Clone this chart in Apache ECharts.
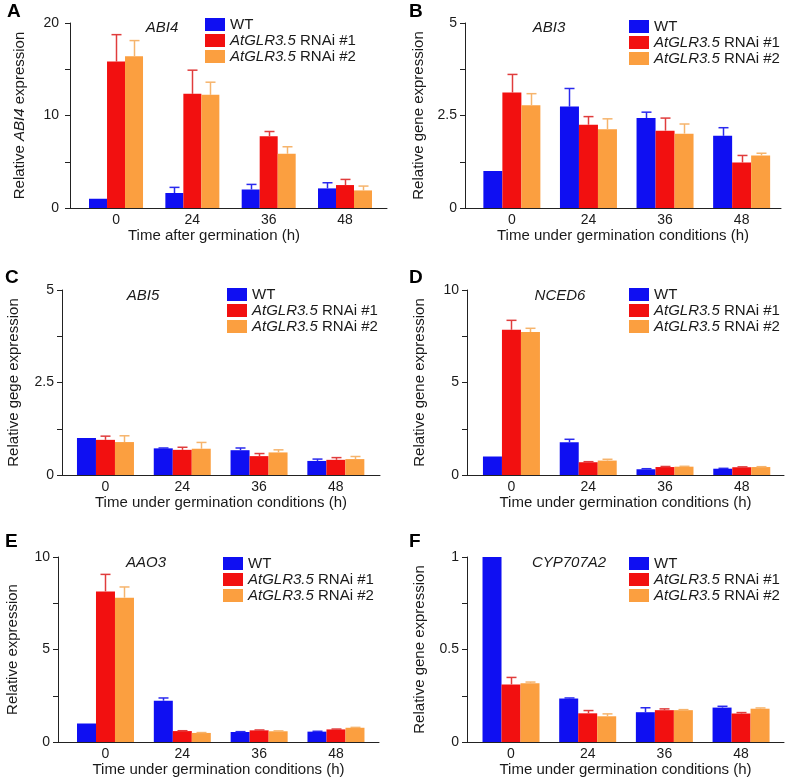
<!DOCTYPE html>
<html><head><meta charset="utf-8">
<script src="https://cdn.jsdelivr.net/npm/echarts@6/dist/echarts.min.js"></script>
<style>html,body{margin:0;padding:0;background:#fff}#c{width:788px;height:783px}</style>
</head><body><div id="c"></div>
<script>
// ---------- data ----------
const timeLabels = ['0', '24', '36', '48'];
const genotypes = ['WT', 'AtGLR3.5 RNAi #1', 'AtGLR3.5 RNAi #2'];

// A: ABI4
const abi4_WT = [1.0, 1.62, 2.0, 2.12];
const abi4_R1 = [15.83, 12.34, 7.77, 2.48];
const abi4_R2 = [16.4, 12.23, 5.86, 1.9];
const abi4_WT_sd = [0, 0.61, 0.55, 0.61];
const abi4_R1_sd = [2.91, 2.56, 0.5, 0.61];
const abi4_R2_sd = [1.7, 1.37, 0.76, 0.47];

// B: ABI3
const abi3_WT = [1.0, 2.74, 2.43, 1.95];
const abi3_R1 = [3.12, 2.25, 2.09, 1.23];
const abi3_R2 = [2.78, 2.13, 2.01, 1.42];
const abi3_WT_sd = [0, 0.49, 0.16, 0.22];
const abi3_R1_sd = [0.49, 0.22, 0.34, 0.19];
const abi3_R2_sd = [0.31, 0.28, 0.26, 0.06];

// C: ABI5
const abi5_WT = [1.0, 0.72, 0.67, 0.38];
const abi5_R1 = [0.95, 0.68, 0.51, 0.41];
const abi5_R2 = [0.89, 0.71, 0.61, 0.43];
const abi5_WT_sd = [0, 0.01, 0.06, 0.05];
const abi5_R1_sd = [0.10, 0.07, 0.07, 0.06];
const abi5_R2_sd = [0.17, 0.17, 0.07, 0.07];

// D: NCED6
const nced6_WT = [1.0, 1.77, 0.31, 0.34];
const nced6_R1 = [7.85, 0.69, 0.43, 0.42];
const nced6_R2 = [7.73, 0.78, 0.45, 0.43];
const nced6_WT_sd = [0, 0.16, 0.03, 0.02];
const nced6_R1_sd = [0.51, 0.03, 0.03, 0.02];
const nced6_R2_sd = [0.2, 0.07, 0.02, 0.02];

// E: AAO3
const aao3_WT = [1.0, 2.23, 0.54, 0.56];
const aao3_R1 = [8.14, 0.59, 0.63, 0.68];
const aao3_R2 = [7.8, 0.49, 0.58, 0.77];
const aao3_WT_sd = [0, 0.15, 0.02, 0.02];
const aao3_R1_sd = [0.92, 0.02, 0.02, 0.02];
const aao3_R2_sd = [0.58, 0.02, 0.02, 0.02];

// F: CYP707A2
const cyp_WT = [1.0, 0.235, 0.161, 0.186];
const cyp_R1 = [0.311, 0.155, 0.172, 0.154];
const cyp_R2 = [0.318, 0.139, 0.172, 0.18];
const cyp_WT_sd = [0, 0.003, 0.024, 0.007];
const cyp_R1_sd = [0.038, 0.015, 0.007, 0.005];
const cyp_R2_sd = [0.006, 0.013, 0.003, 0.004];

// ---------- layout / style ----------
const FONT = '"Liberation Sans", Arial, sans-serif';
const TXT = '#1a1a1a';
const barColors = ['#0f0ff2', '#f21010', '#fb9f40'];
const errColors = ['#2a2aee', '#e03c3c', '#f6b46c'];

const panels = [
  {letter: 'A', gene: 'ABI4', yName: 'Relative {i|ABI4} expression', xName: 'Time after germination (h)',
   means: [abi4_WT, abi4_R1, abi4_R2], sds: [abi4_WT_sd, abi4_R1_sd, abi4_R2_sd], max: 20, interval: 10,
   grid: {left: 70, top: 23, width: 317, height: 185}, xMin: -0.603, xMax: 3.55, barW: 18, yGap: 43, yMargin: 11,
   xPad: [0, 29, 0, 0], letterPos: [7, 12], genePos: [162, 28], legendPos: [205, 17]},
  {letter: 'B', gene: 'ABI3', yName: 'Relative gene expression', xName: 'Time under germination conditions (h)',
   means: [abi3_WT, abi3_R1, abi3_R2], sds: [abi3_WT_sd, abi3_R1_sd, abi3_R2_sd], max: 5, interval: 2.5,
   grid: {left: 465, top: 23, width: 316, height: 185}, xMin: -0.612, xMax: 3.514, barW: 19, yGap: 39, yMargin: 8,
   xPad: [0, 0, 0, 0], letterPos: [409, 12], genePos: [549, 28], legendPos: [629, 19]},
  {letter: 'C', gene: 'ABI5', yName: 'Relative gege expression', xName: 'Time under germination conditions (h)',
   means: [abi5_WT, abi5_R1, abi5_R2], sds: [abi5_WT_sd, abi5_R1_sd, abi5_R2_sd], max: 5, interval: 2.5,
   grid: {left: 62, top: 290, width: 318, height: 185}, xMin: -0.566, xMax: 3.575, barW: 19, yGap: 41, yMargin: 8,
   xPad: [0, 0, 0, 0], letterPos: [5, 278], genePos: [143, 296], legendPos: [227, 287]},
  {letter: 'D', gene: 'NCED6', yName: 'Relative gene expression', xName: 'Time under germination conditions (h)',
   means: [nced6_WT, nced6_R1, nced6_R2], sds: [nced6_WT_sd, nced6_R1_sd, nced6_R2_sd], max: 10, interval: 5,
   grid: {left: 467, top: 290, width: 317, height: 185}, xMin: -0.579, xMax: 3.55, barW: 19, yGap: 40, yMargin: 8,
   xPad: [0, 0, 0, 0], letterPos: [409, 278], genePos: [560, 296], legendPos: [629, 287]},
  {letter: 'E', gene: 'AAO3', yName: 'Relative expression', xName: 'Time under germination conditions (h)',
   means: [aao3_WT, aao3_R1, aao3_R2], sds: [aao3_WT_sd, aao3_R1_sd, aao3_R2_sd], max: 10, interval: 5,
   grid: {left: 58, top: 557, width: 321, height: 185}, xMin: -0.618, xMax: 3.56, barW: 19, yGap: 38, yMargin: 8,
   xPad: [0, 0, 0, 0], letterPos: [5, 542], genePos: [146, 563], legendPos: [223, 556]},
  {letter: 'F', gene: 'CYP707A2', yName: 'Relative gene expression', xName: 'Time under germination conditions (h)',
   means: [cyp_WT, cyp_R1, cyp_R2], sds: [cyp_WT_sd, cyp_R1_sd, cyp_R2_sd], max: 1, interval: 0.5,
   grid: {left: 467, top: 557, width: 317, height: 185}, xMin: -0.574, xMax: 3.56, barW: 19, yGap: 40, yMargin: 8,
   xPad: [0, 0, 0, 0], letterPos: [409, 542], genePos: [569, 563], legendPos: [629, 556]}
];

// ---------- build option ----------
const grids = [], xAxes = [], yAxes = [], series = [], legends = [], graphics = [];
const axisLineStyle = {color: '#222', width: 1};

panels.forEach((p, pi) => {
  grids.push(Object.assign({containLabel: false}, p.grid));
  xAxes.push({
    type: 'value', gridIndex: pi, min: p.xMin, max: p.xMax,
    axisLine: {show: true, onZero: false, lineStyle: axisLineStyle},
    axisTick: {show: false}, splitLine: {show: false},
    axisLabel: {customValues: [0, 1, 2, 3], formatter: v => timeLabels[Math.round(v)], margin: 5,
                fontFamily: FONT, fontSize: 14, color: TXT},
    name: p.xName, nameLocation: 'middle', nameGap: 20,
    nameTextStyle: {fontFamily: FONT, fontSize: 15, color: TXT, padding: p.xPad}
  });
  yAxes.push({
    type: 'value', gridIndex: pi, min: 0, max: p.max, interval: p.interval,
    axisLine: {show: true, onZero: false, lineStyle: axisLineStyle},
    axisTick: {show: true, length: 5, lineStyle: axisLineStyle},
    minorTick: {show: true, splitNumber: 2, length: 5, lineStyle: axisLineStyle},
    splitLine: {show: false}, minorSplitLine: {show: false},
    axisLabel: {margin: p.yMargin, fontFamily: FONT, fontSize: 14, color: TXT},
    name: p.yName, nameLocation: 'middle', nameGap: p.yGap,
    nameTextStyle: {fontFamily: FONT, fontSize: 15, color: TXT,
                    rich: {i: {fontFamily: FONT, fontSize: 15, fontStyle: 'italic', color: TXT}}}
  });
  genotypes.forEach((g, gi) => {
    series.push({
      type: 'bar', name: g, xAxisIndex: pi, yAxisIndex: pi,
      barWidth: p.barW, barGap: '0%',
      itemStyle: {color: barColors[gi]},
      emphasis: {disabled: true},
      data: p.means[gi].map((v, i) => [i, v])
    });
  });
  const errData = [];
  genotypes.forEach((g, gi) => {
    p.means[gi].forEach((v, i) => errData.push([i, v, p.sds[gi][i], gi]));
  });
  const bw = p.barW;
  series.push({
    type: 'custom', xAxisIndex: pi, yAxisIndex: pi, z: 5, silent: true,
    data: errData,
    renderItem: (params, api) => {
      const x = api.value(0), v = api.value(1), sd = api.value(2), gi = api.value(3);
      if (!(sd > 0)) return null;
      const b = api.coord([x, v]), t = api.coord([x, v + sd]);
      const cx = Math.round(b[0] + (gi - 1) * bw) + 0.5;
      const st = {stroke: errColors[gi], lineWidth: 1.5};
      return {type: 'group', children: [
        {type: 'line', shape: {x1: cx, y1: b[1], x2: cx, y2: t[1]}, style: st},
        {type: 'line', shape: {x1: cx - 5, y1: t[1], x2: cx + 5, y2: t[1]}, style: st}
      ]};
    }
  });
  legends.push({
    data: genotypes, orient: 'vertical', left: p.legendPos[0], top: p.legendPos[1], padding: 0,
    itemWidth: 20, itemHeight: 13, itemGap: 1, icon: 'rect', selectedMode: false,
    formatter: n => n.indexOf('AtGLR3.5') === 0 ? '{i|AtGLR3.5}' + n.slice(8) : n,
    textStyle: {fontFamily: FONT, fontSize: 15, color: TXT, lineHeight: 15,
                rich: {i: {fontFamily: FONT, fontSize: 15, fontStyle: 'italic', color: TXT, lineHeight: 15}}}
  });
  graphics.push({
    type: 'text', x: p.letterPos[0], y: p.letterPos[1],
    style: {text: p.letter, font: 'bold 19px ' + FONT, fill: '#000', textVerticalAlign: 'middle'}
  });
  graphics.push({
    type: 'text', x: p.genePos[0], y: p.genePos[1],
    style: {text: p.gene, font: 'italic 15px ' + FONT, fill: TXT, textAlign: 'center', textVerticalAlign: 'middle'}
  });
});

const chart = echarts.init(document.getElementById('c'), null, {renderer: 'canvas'});
chart.setOption({
  animation: false,
  backgroundColor: '#fff',
  grid: grids, xAxis: xAxes, yAxis: yAxes, series: series, legend: legends, graphic: graphics
});
</script>
</body></html>
